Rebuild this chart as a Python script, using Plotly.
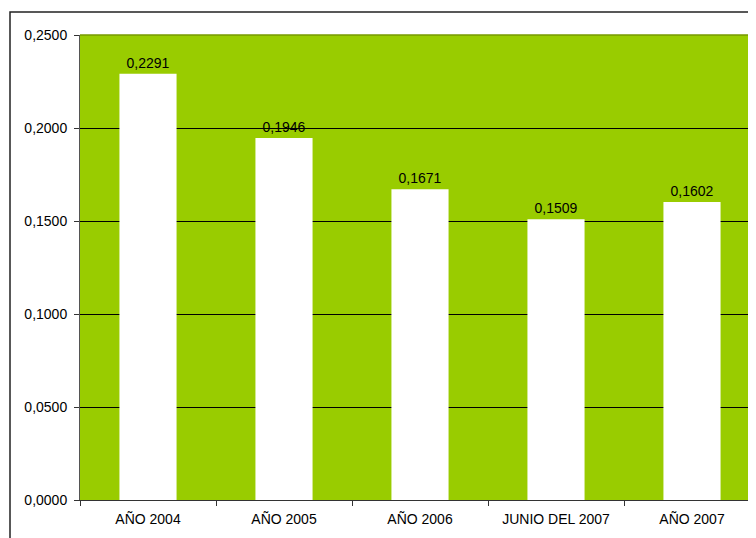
import plotly.graph_objects as go

categories = ["AÑO 2004", "AÑO 2005", "AÑO 2006", "JUNIO DEL 2007", "AÑO 2007"]
values = [0.2291, 0.1946, 0.1671, 0.1509, 0.1602]
y_ticks = [0, 0.05, 0.10, 0.15, 0.20, 0.25]

FONT = "Liberation Sans, Arial, sans-serif"
FS = 14

fig = go.Figure()
fig.add_trace(go.Bar(
    x=categories, y=values,
    marker=dict(color="#FFFFFF", line=dict(width=0)),
    width=0.42,
    text=[f"{v:.4f}".replace(".", ",") for v in values],
    textposition="outside",
    textfont=dict(family=FONT, size=FS, color="#000000"),
    cliponaxis=False,
))

# page offset of 8px (body margin) is compensated
OFF = 8
W, H = 756 - OFF, 538 - OFF
ml, mt = 80 - OFF, 35 - OFF
mb = H - (500 - OFF)
pw = W - ml
ph = H - mt - mb

fig.update_layout(
    width=W, height=H,
    margin=dict(l=ml, r=0, t=mt, b=mb, pad=0),
    paper_bgcolor="#FFFFFF",
    plot_bgcolor="#99CC00",
    separators=",.",
    showlegend=False,
    font=dict(family=FONT, size=FS, color="#000000"),
    xaxis=dict(
        range=[-0.5, -0.5 + pw / 136.0],
        tickson="boundaries",
        ticks="outside", ticklen=5, tickcolor="#333333",
        showline=True, linecolor="#333333", linewidth=1,
        showgrid=False,
        ticklabelstandoff=6,
        tickfont=dict(family=FONT, size=FS, color="#000000"),
    ),
    yaxis=dict(
        range=[0, 0.25],
        tickvals=y_ticks,
        tickformat=".4f",
        ticks="outside", ticklen=5, tickcolor="#333333",
        showline=True, linecolor="#555555", linewidth=1,
        showgrid=True, gridcolor="#000000", gridwidth=1,
        zeroline=False,
        ticklabelstandoff=4,
        tickfont=dict(family=FONT, size=FS, color="#000000"),
    ),
    shapes=[
        dict(type="line", xref="paper", yref="paper", x0=0, x1=1.05, y0=1, y1=1,
             line=dict(color="#779900", width=1.5)),
        dict(type="rect", xref="paper", yref="paper",
             x0=(10 - 80) / pw, x1=1.2,
             y0=-0.5, y1=(500 - 12) / ph,
             line=dict(color="#222222", width=1.5), layer="above"),
    ],
)

fig.write_html("out.html")
